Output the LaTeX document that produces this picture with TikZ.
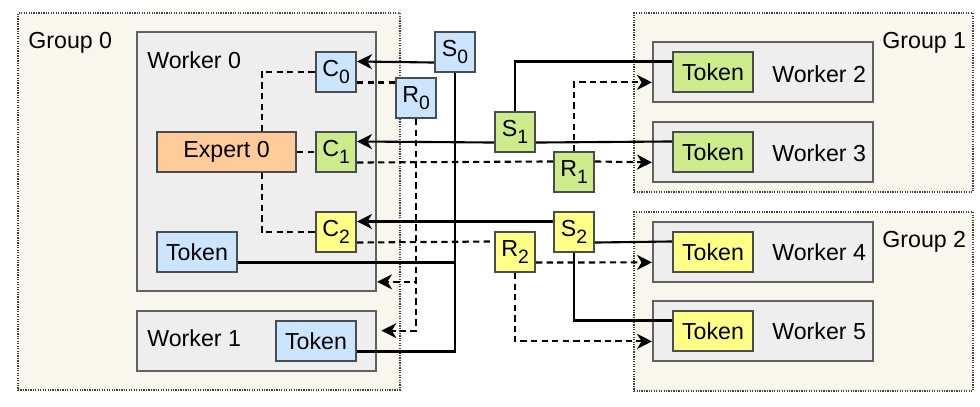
\documentclass[tikz,border=0pt]{standalone}
\usepackage{fontspec}
\setmainfont{Liberation Sans}
\usetikzlibrary{arrows.meta,calc}
\definecolor{grpfill}{HTML}{F9F7ED}
\definecolor{wfill}{HTML}{EEEEEE}
\definecolor{bfill}{HTML}{CCE5FF}
\definecolor{gfill}{HTML}{CDEB8B}
\definecolor{yfill}{HTML}{FFFF88}
\definecolor{ofill}{HTML}{FFCC99}
\definecolor{edgec}{HTML}{36393D}
\newcommand{\mysub}[1]{\raisebox{-0.28em}{\fontsize{11}{12}\selectfont #1}}
\begin{document}
\begin{tikzpicture}[x=0.02cm,y=-0.02cm, font=\fontsize{13.2}{15}\selectfont,
 grp/.style={draw=black!75, fill=grpfill, dash pattern=on 0.7pt off 0.7pt, line width=0.9pt, inner sep=0pt, rectangle},
 wbox/.style={draw=black!62, fill=wfill, line width=1.2pt, inner sep=0pt},
 box/.style={draw=edgec!90, line width=1.2pt, inner sep=0pt, minimum height=0.8cm},
 sq/.style={box, minimum width=0.8cm},
 tok/.style={box, minimum width=1.6cm},
 txt/.style={anchor=base west, inner sep=0pt},
 ln/.style={line width=1.2pt},
 arr/.style={ln, -{Stealth[length=8.5pt,width=8.5pt,inset=2.6pt]}},
 dsh/.style={ln, dash pattern=on 3.6pt off 2.4pt},
 darr/.style={dsh, -{Stealth[length=8.5pt,width=8.5pt,inset=2.6pt]}}]
\useasboundingbox (0,0) rectangle (980,406);
% groups
\node[grp, minimum width=7.64cm, minimum height=7.54cm] (G0) at (209,201.5) {};
\node[grp, minimum width=6.78cm, minimum height=3.58cm] (G1) at (803.5,102.5) {};
\node[grp, minimum width=6.78cm, minimum height=3.58cm] (G2) at (803.5,301.5) {};
\node[txt] (G0l) at (28,48) {Group 0};
\node[txt] (G1l) at (882,48) {Group 1};
\node[txt] (G2l) at (882,247) {Group 2};
% workers
\node[wbox, minimum width=4.78cm, minimum height=5.18cm] (W0) at (256.5,161.5) {};
\node[wbox, minimum width=4.78cm, minimum height=1.2cm] (W1) at (256.5,341) {};
\node[wbox, minimum width=4.4cm, minimum height=1.2cm] (W2) at (763,72) {};
\node[wbox, minimum width=4.4cm, minimum height=1.2cm] (W3) at (763,152) {};
\node[wbox, minimum width=4.4cm, minimum height=1.2cm] (W4) at (763,252) {};
\node[wbox, minimum width=4.4cm, minimum height=1.2cm] (W5) at (763,331) {};
\node[txt] (W0l) at (147,68) {Worker 0};
\node[txt] (W1l) at (147,346) {Worker 1};
\node[txt] (W2l) at (772,82) {Worker 2};
\node[txt] (W3l) at (772,161) {Worker 3};
\node[txt] (W4l) at (772,260) {Worker 4};
\node[txt] (W5l) at (772,339) {Worker 5};
% inner boxes
\node[sq, fill=bfill] (C0) at (336,72) {C\mysub{0}};
\node[sq, fill=gfill] (C1) at (336,152) {C\mysub{1}};
\node[sq, fill=yfill] (C2) at (336,232) {C\mysub{2}};
\node[box, fill=ofill, minimum width=2.78cm] (Exp) at (226.5,152) {Expert 0};
\node[tok, fill=bfill] (T0) at (197,252) {Token};
\node[tok, fill=bfill] (T1) at (316,341) {Token};
\node[sq, fill=bfill] (S0) at (455,52) {S\mysub{0}};
\node[sq, fill=bfill] (R0) at (416,98) {R\mysub{0}};
\node[sq, fill=gfill] (S1) at (515,132) {S\mysub{1}};
\node[sq, fill=gfill] (R1) at (574,172) {R\mysub{1}};
\node[sq, fill=yfill] (S2) at (574,232) {S\mysub{2}};
\node[sq, fill=yfill] (R2) at (515,252) {R\mysub{2}};
\node[tok, fill=gfill] (T2) at (713,72) {Token};
\node[tok, fill=gfill] (T3) at (713,152) {Token};
\node[tok, fill=yfill] (T4) at (713,252) {Token};
\node[tok, fill=yfill] (T5) at (713,331) {Token};
% anchor points
\coordinate (s0w) at ($(S0.north west)!.75!(S0.south west)$);
\coordinate (c0ea) at ($(C0.north east)!.25!(C0.south east)$);
\coordinate (c0eb) at ($(C0.north east)!.75!(C0.south east)$);
\coordinate (c1ea) at ($(C1.north east)!.25!(C1.south east)$);
\coordinate (c1eb) at ($(C1.north east)!.75!(C1.south east)$);
\coordinate (c2ea) at ($(C2.north east)!.25!(C2.south east)$);
\coordinate (c2eb) at ($(C2.north east)!.75!(C2.south east)$);
\coordinate (t0e) at ($(T0.north east)!.75!(T0.south east)$);
\coordinate (t1e) at ($(T1.north east)!.75!(T1.south east)$);
\coordinate (t2w) at ($(T2.north west)!.25!(T2.south west)$);
\coordinate (t3w) at ($(T3.north west)!.25!(T3.south west)$);
\coordinate (t4w) at ($(T4.north west)!.25!(T4.south west)$);
\coordinate (t5w) at ($(T5.north west)!.25!(T5.south west)$);
\coordinate (s1w) at ($(S1.north west)!.75!(S1.south west)$);
\coordinate (s1e) at ($(S1.north east)!.75!(S1.south east)$);
\coordinate (s2w) at ($(S2.north west)!.25!(S2.south west)$);
\coordinate (s2e) at ($(S2.north east)!.75!(S2.south east)$);
\coordinate (r1w) at ($(R1.north west)!.25!(R1.south west)$);
\coordinate (r1e) at ($(R1.north east)!.25!(R1.south east)$);
\coordinate (r2w) at ($(R2.north west)!.25!(R2.south west)$);
\coordinate (r2e) at ($(R2.north east)!.75!(R2.south east)$);
\coordinate (w0e) at ($(W0.north east)!.961!(W0.south east)$);
\coordinate (w1e) at ($(W1.north east)!.333!(W1.south east)$);
\coordinate (w2w) at ($(W2.north west)!.667!(W2.south west)$);
\coordinate (w3w) at ($(W3.north west)!.667!(W3.south west)$);
\coordinate (w4w) at ($(W4.north west)!.667!(W4.south west)$);
\coordinate (w5w) at ($(W5.north west)!.667!(W5.south west)$);
\coordinate (ext) at ($(Exp.north west)!.75!(Exp.north east)$);
\coordinate (exb) at ($(Exp.south west)!.75!(Exp.south east)$);
% expert dashed links
\draw[dsh] (Exp.east) -- (C1.west);
\draw[dsh] (ext) |- (C0.west);
\draw[dsh] (exb) |- (C2.west);
% solid S links
\draw[arr] (s0w) -- (c0ea);
\draw[ln] (t0e) -| (S0.south);
\draw[ln] (t1e) -| (S0.south);
\draw[ln] (S1.north) |- (t2w);
\draw[arr] (s1w) -- (c1ea);
\draw[ln] (s1e) -- (t3w);
\draw[arr] (s2w) -- (c2ea);
\draw[ln] (s2e) -- (t4w);
\draw[ln] (S2.south) |- (t5w);
% dashed R links
\draw[dsh] (c0eb) -- (c0eb -| R0.west);
\draw[darr] (R0.south) |- (w0e);
\draw[darr, shorten >=2.5pt] (R0.south) |- (w1e);
\draw[dsh] (c1eb) -- (r1w);
\draw[darr] (r1e) -- (w3w);
\draw[darr] (R1.north) |- (w2w);
\draw[dsh] (c2eb) -- (r2w);
\draw[darr] (r2e) -- (w4w);
\draw[darr] (R2.south) |- (w5w);
\end{tikzpicture}
\end{document}
